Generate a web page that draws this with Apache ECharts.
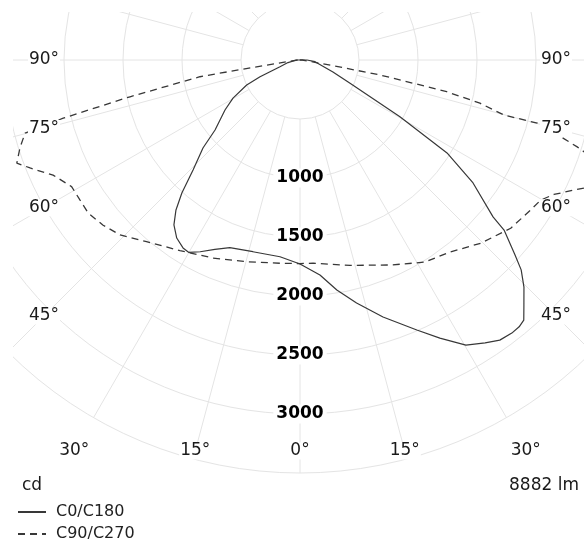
<!DOCTYPE html>
<html><head><meta charset="utf-8">
<script src="https://cdn.jsdelivr.net/npm/echarts@6/dist/echarts.min.js"></script>
<style>html,body{margin:0;padding:0;background:#fff}#c{width:584px;height:549px}</style>
</head><body><div id="c"></div>
<script>
// ---- data (gamma in degrees from nadir, intensity in cd) ----
const solidLeftGamma = [90, 78, 71.5, 67.3, 64.9, 60.4, 56.3, 50.5, 47.8, 44.2, 41.6, 39.6, 37.4, 34.7, 31.9, 30, 27.5, 24.2, 20.5, 13.8, 5.8, 0];
const solidLeftCd    = [30, 104, 179, 367, 499, 653, 764, 933, 1110, 1300, 1508, 1649, 1759, 1835, 1876, 1883, 1832, 1760, 1698, 1673, 1676, 1729];
const solidRightGamma = [0, 5.3, 9.1, 13.1, 17.9, 23.4, 26.7, 30.2, 33.2, 35.5, 37.8, 39.4, 40.7, 42.4, 44.6, 46.5, 47.8, 50.2, 50.9, 54.6, 57.7, 60.4, 65, 70, 83.5, 90];
const solidRightCd    = [1729, 1830, 1974, 2115, 2289, 2493, 2638, 2795, 2865, 2916, 2929, 2926, 2908, 2814, 2703, 2584, 2460, 2251, 2108, 1799, 1474, 974, 468, 297, 128, 59];
const dashLeftGamma = [90, 81, 80.5, 77.8, 76.2, 75.1, 72.6, 70, 68.2, 65, 61, 57.5, 54.1, 50, 45.8, 40.2, 32.2, 23.7, 14.8, 5.6, 0];
const dashLeftCd    = [20, 450, 860, 1474, 2066, 2411, 2487, 2554, 2464, 2309, 2213, 2210, 2214, 2178, 2127, 2015, 1909, 1833, 1768, 1731, 1725];
const dashRightGamma = [0, 3.7, 13.7, 24.2, 31.7, 38, 44.6, 51.4, 57, 59.8, 62.1, 64.6, 65.7, 69.5, 72.1, 72.6, 73.6, 75.1, 74.9, 76.5, 77.8, 78.4, 79.4, 80, 90];
const dashRightCd    = [1725, 1726, 1792, 1904, 2013, 2065, 2181, 2285, 2332, 2360, 2435, 2570, 2640, 2700, 2529, 2462, 2303, 2081, 1791, 1568, 1272, 980, 690, 350, 20];
const seriesNames = ['C0/C180', 'C90/C270'];
const radiusLabels = [1000, 1500, 2000, 2500, 3000];
const sideAngleLabels = [90, 75, 60, 45];
const bottomAngleLabels = [30, 15, 0];
const spokeAngles = [0,15,30,45,60,75,90,105,120,135,150,165,180,195,210,225,240,255,270,285,300,315,330,345];
const fluxText = '8882 lm';
const unitText = 'cd';

// ---- layout ----
const R_MAX = 3500, R_PX = 413, CX = 300, CY = 60;
const pxToCd = px => px * R_MAX / R_PX;
const FONT = 'DejaVu Sans';
const GRID = '#e4e4e4';
const LINE = '#383838';

function curve(lg, lc, rg, rc) {
  const pts = [];
  lg.forEach((g, i) => pts.push([lc[i], g]));
  rg.forEach((g, i) => pts.push([rc[i], 360 - g]));
  pts.push(pts[0]);
  return pts;
}

const spokeSeries = spokeAngles.map(a => ({
  type: 'line', coordinateSystem: 'polar', silent: true, clip: false,
  symbol: 'none', z: 0, animation: false,
  lineStyle: { color: GRID, width: 1 },
  data: [[500, a], [6000, a]]
}));

const angleLabelData = [];
sideAngleLabels.forEach(g => {
  const r = pxToCd(256 / Math.sin(g * Math.PI / 180));
  angleLabelData.push({ value: [r, g], name: g + '°' });
  angleLabelData.push({ value: [r, 360 - g], name: g + '°' });
});
bottomAngleLabels.forEach(g => {
  const r = pxToCd(391 / Math.cos(g * Math.PI / 180));
  angleLabelData.push({ value: [r, g], name: g + '°' });
  if (g !== 0) angleLabelData.push({ value: [r, 360 - g], name: g + '°' });
});

const chart = echarts.init(document.getElementById('c'), null, { renderer: 'canvas' });
chart.setOption({
  animation: false,
  backgroundColor: '#fff',
  polar: { center: [CX, CY], radius: R_PX },
  angleAxis: {
    type: 'value', min: 0, max: 360, startAngle: -90, clockwise: true,
    axisLine: { show: false }, axisTick: { show: false }, axisLabel: { show: false },
    splitLine: { show: false }
  },
  radiusAxis: {
    type: 'value', min: 0, max: R_MAX, interval: 500,
    axisLine: { show: false }, axisTick: { show: false }, axisLabel: { show: false },
    splitLine: { show: true, lineStyle: { color: GRID, width: 1 } }
  },
  legend: {
    data: seriesNames, orient: 'vertical', left: 17, top: 502, itemGap: 2, padding: 0,
    itemWidth: 28, itemHeight: 12,
    itemStyle: { opacity: 0 },
    textStyle: { fontFamily: FONT, fontSize: 16, color: '#222', lineHeight: 20, padding: [0, 0, 0, 5] }
  },
  graphic: [
    { type: 'rect', z: 1, silent: true, shape: { x: 0, y: 0, width: 13, height: 549 }, style: { fill: '#fff' } },
    { type: 'rect', z: 1, silent: true, shape: { x: 0, y: 0, width: 584, height: 12 }, style: { fill: '#fff' } },
    { type: 'rect', z: 1, silent: true, shape: { x: 0, y: 475, width: 584, height: 80 }, style: { fill: '#fff' } },
    { type: 'text', z: 10, left: 22, top: 477, style: { text: unitText, fontFamily: FONT, fontSize: 17, fill: '#1a1a1a' } },
    { type: 'text', z: 10, right: 5, top: 477, style: { text: fluxText, fontFamily: FONT, fontSize: 17, fill: '#1a1a1a' } }
  ],
  series: [
    ...spokeSeries,
    {
      name: seriesNames[0], type: 'line', coordinateSystem: 'polar', symbol: 'none', z: 3,
      lineStyle: { color: LINE, width: 1.2, type: 'solid' },
      itemStyle: { color: LINE },
      data: curve(solidLeftGamma, solidLeftCd, solidRightGamma, solidRightCd)
    },
    {
      name: seriesNames[1], type: 'line', coordinateSystem: 'polar', symbol: 'none', z: 3,
      lineStyle: { color: LINE, width: 1.3, type: [7, 5] },
      itemStyle: { color: LINE },
      data: curve(dashLeftGamma, dashLeftCd, dashRightGamma, dashRightCd)
    },
    {
      type: 'scatter', coordinateSystem: 'polar', silent: true, z: 8, clip: false,
      symbolSize: 1, itemStyle: { color: 'rgba(0,0,0,0)', opacity: 1 },
      label: {
        show: true, position: 'inside', formatter: p => String(p.value[0]),
        fontFamily: FONT, fontSize: 17, fontWeight: 'bold', color: '#000', opacity: 1,
        backgroundColor: '#fff', padding: [1, 3]
      },
      data: radiusLabels.map(v => [v, 0])
    },
    {
      type: 'scatter', coordinateSystem: 'polar', silent: true, z: 8, clip: false,
      symbolSize: 1, itemStyle: { color: 'rgba(0,0,0,0)', opacity: 1 },
      label: {
        show: true, position: 'inside', formatter: p => p.name,
        fontFamily: FONT, fontSize: 17, color: '#1a1a1a', opacity: 1,
        backgroundColor: '#fff', padding: [0, 1]
      },
      data: angleLabelData
    }
  ]
});
</script></body></html>
